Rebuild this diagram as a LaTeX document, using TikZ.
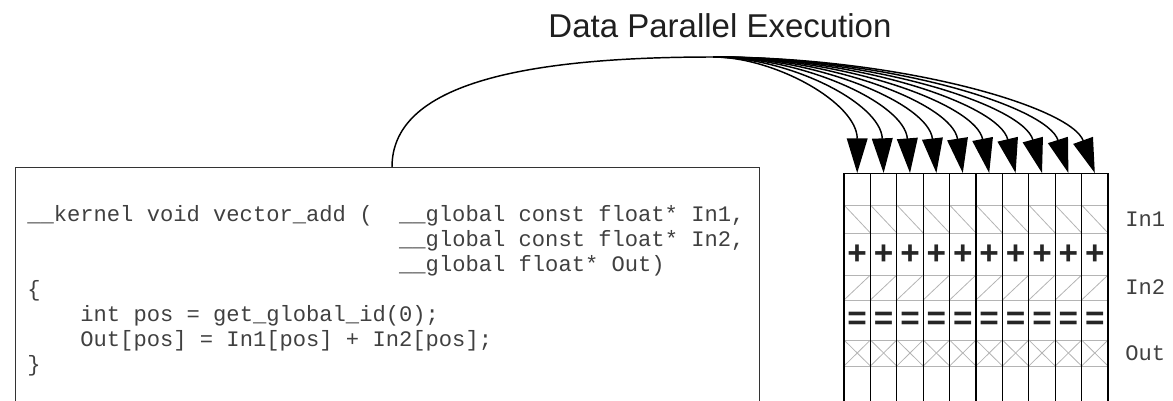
\documentclass[tikz,border=0pt]{standalone}
\usepackage{fontspec}
\setmainfont{Liberation Sans}
\setmonofont{Liberation Mono}
\usetikzlibrary{arrows.meta,calc}
\definecolor{codegray}{HTML}{404040}
\definecolor{hatchgray}{HTML}{B4B4B4}
\begin{document}
\begin{tikzpicture}[x=0.75pt,y=-0.75pt,
  codetext/.style={font=\ttfamily\fontsize{16.6}{18.75}\selectfont, text=codegray, inner sep=0pt},
  titletext/.style={font=\fontsize{24.75}{28}\selectfont, text=black!88},
  column/.style={draw=black, line width=0.8pt, minimum width=19.8pt, minimum height=190pt, anchor=north, inner sep=0pt},
  op/.style={font=\bfseries\fontsize{25}{26}\selectfont, inner sep=0pt, text=black!85},
  fan/.style={line width=1.1pt, -{Triangle[length=26pt,width=15.5pt]}},
  bigcurve/.style={line width=1.1pt},
  hatch/.style={draw=hatchgray, line width=0.6pt},
  codebox/.style={draw=black!80, line width=1.1pt, minimum width=558pt, minimum height=200pt, anchor=north west, inner sep=0pt}
]
\useasboundingbox (0,0) rectangle (1173,400);
\clip (0,0) rectangle (1173,400);

% title
\node[titletext, anchor=base] (title) at (720,37) {Data Parallel Execution};

% code box
\node[codebox] (box) at (15,167) {};
\node[codetext, anchor=base west, align=left] (code) at (27,371)
 {\_\_kernel void vector\_add (~~\_\_global const float* In1,\\
  \mbox{}\hphantom{\_\_kernel void vector\_add (~~}\_\_global const float* In2,\\
  \mbox{}\hphantom{\_\_kernel void vector\_add (~~}\_\_global float* Out)\\
  \{\\
  \mbox{}~~~~int pos = get\_global\_id(0);\\
  \mbox{}~~~~Out[pos] = In1[pos] + In2[pos];\\
  \}};

% grid rows (gray)
\foreach \yy in {205,233,275,300,340,366} {
  \draw[hatch] (844,\yy) -- (1108,\yy);
}
\foreach \i in {0,...,9} {
  \pgfmathsetmacro\xl{844+26.4*\i}
  \pgfmathsetmacro\xr{844+26.4*(\i+1)}
  \draw[hatch] (\xl,205) -- (\xr,233);
  \draw[hatch] (\xl,300) -- (\xr,275);
  \draw[hatch] (\xl,340) -- (\xr,366);
  \draw[hatch] (\xl,366) -- (\xr,340);
}
% columns
\foreach \i in {0,...,9} {
  \pgfmathsetmacro\xx{844+26.4*(\i+0.5)}
  \node[column] (col\i) at (\xx,173) {};
  \node[op] (plus\i) at (\xx,255) {+};
  \node[op] (eq\i) at (\xx,321) {=};
}

% row labels
\node[codetext, anchor=west] (lin1) at (1125,219) {In1};
\node[codetext, anchor=west] (lin2) at (1125,287) {In2};
\node[codetext, anchor=west] (lout) at (1125,353) {Out};

% connectors
\coordinate (src) at (392,167);
\coordinate (hub) at (713,57);
\draw[bigcurve] (src) .. controls (392,90) and (504,57) .. (hub);
\foreach \i in {0,...,9} {
  \pgfmathsetmacro\xx{844+26.4*(\i+0.5)}
  \pgfmathsetmacro\th{2.2*\i}
  \pgfmathsetmacro\ca{775+14*\i}
  \pgfmathsetmacro\cx{\xx-70*sin(\th)}
  \pgfmathsetmacro\cy{173-70*cos(\th)}
  \draw[fan] (hub) .. controls (\ca,57) and (\cx,\cy) .. (col\i.north);
}
\end{tikzpicture}
\end{document}
